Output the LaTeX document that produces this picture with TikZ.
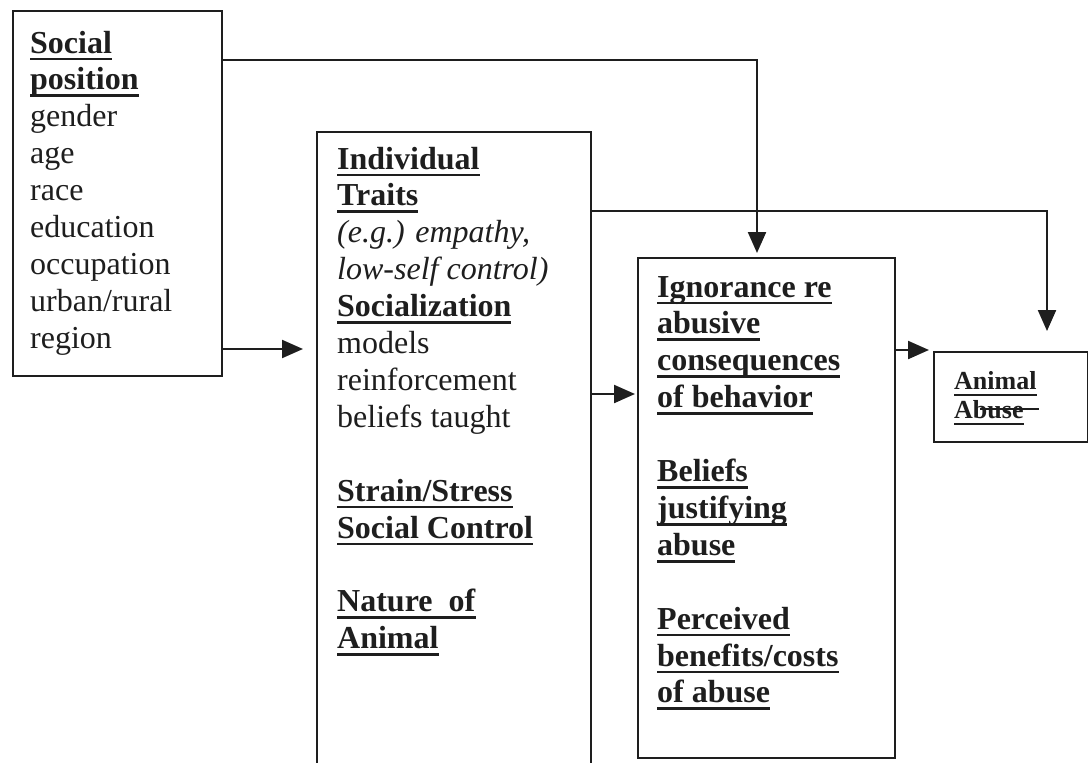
\documentclass[tikz,border=0pt]{standalone}
\usepackage{fontspec}
\setmainfont{Liberation Serif}
\usetikzlibrary{arrows.meta,calc}
\definecolor{ink}{HTML}{1E1E1E}
\newsavebox{\hdbox}
\newcommand{\hd}[1]{\sbox{\hdbox}{\textbf{#1}}\rlap{\rule[-7.3pt]{\wd\hdbox}{2.8pt}}\usebox{\hdbox}}
\tikzset{
  box/.style={draw=ink, line width=2.2pt, inner sep=0pt, anchor=north west},
  txt/.style={anchor=base west, inner sep=0pt, text=ink, font=\fontsize{32}{36.9}\selectfont},
  smalltxt/.style={anchor=base west, inner sep=0pt, text=ink, font=\fontsize{26}{30}\selectfont},
  conn/.style={draw=ink, line width=2.2pt, -{Triangle[length=21pt,width=18pt]}}
}
\begin{document}
\begin{tikzpicture}[x=1pt,y=-1pt]
\fill[white] (0,0) rectangle (1088,763);
\useasboundingbox (0,0) rectangle (1088,763);
% boxes
\node[box, minimum width=209pt, minimum height=365pt] (b1) at (12,10) {};
\node[box, minimum width=274pt, minimum height=650pt] (b2) at (316,131) {};
\node[box, minimum width=257pt, minimum height=500pt] (b3) at (637,257) {};
\node[box, minimum width=154pt, minimum height=90pt] (b4) at (933,351) {};
% box 1 text
\node[txt] (s1) at (30,53) {\hd{Social}};
\node[txt] (s2) at (30,89.9) {\hd{position}};
\node[txt] (s3) at (30,126.8) {gender};
\node[txt] (s4) at (30,163.7) {age};
\node[txt] (s5) at (30,200.6) {race};
\node[txt] (s6) at (30,237.5) {education};
\node[txt] (s7) at (30,274.4) {occupation};
\node[txt] (s8) at (30,311.3) {urban/rural};
\node[txt] (s9) at (30,348.2) {region};
% box 2 text
\node[txt] (i1) at (337,169) {\hd{Individual}};
\node[txt] (i2) at (337,205.9) {\hd{Traits}};
\node[txt] (i3) at (337,242.8) {\textit{(e.g.) empathy,}};
\node[txt] (i4) at (337,279.7) {\textit{low-self control)}};
\node[txt] (i5) at (337,316.6) {\hd{Socialization}};
\node[txt] (i6) at (337,353.5) {models};
\node[txt] (i7) at (337,390.4) {reinforcement};
\node[txt] (i8) at (337,427.3) {beliefs taught};
\node[txt] (i9) at (337,501.1) {\hd{Strain/Stress}};
\node[txt] (i10) at (337,538) {\hd{Social Control}};
\node[txt] (i11) at (337,611.8) {\hd{Nature\ \ of}};
\node[txt] (i12) at (337,648.7) {\hd{Animal}};
% box 3 text
\node[txt] (g1) at (657,297) {\hd{Ignorance re}};
\node[txt] (g2) at (657,333.9) {\hd{abusive}};
\node[txt] (g3) at (657,370.8) {\hd{consequences}};
\node[txt] (g4) at (657,407.7) {\hd{of behavior}};
\node[txt] (g5) at (657,481.5) {\hd{Beliefs}};
\node[txt] (g6) at (657,518.4) {\hd{justifying}};
\node[txt] (g7) at (657,555.3) {\hd{abuse}};
\node[txt] (g8) at (657,629.1) {\hd{Perceived}};
\node[txt] (g9) at (657,666) {\hd{benefits/costs}};
\node[txt] (g10) at (657,702.9) {\hd{of abuse}};
% box 4 text
\node[smalltxt] (a1) at (954,389) {\hd{Animal}};
\node[smalltxt] (a2) at (954,418) {\hd{Abuse}};
\draw[ink, line width=2.2pt] ($(a2.base west)+(26,-9)$) -- ($(a2.base east)+(15,-9)$);
% connectors
\draw[conn, shorten >=13pt] (b1.east |- 0,349) -- (b2.west |- 0,349);
\draw[conn, shorten >=4pt] (b1.east |- 0,60) -| (b3.north -| 757,0);
\draw[conn, shorten >=20pt] (b2.east |- 0,211) -| (b4.north -| 1047,0);
\draw[conn, shorten >=2pt] (b2.east |- 0,394) -- (b3.west |- 0,394);
\draw[conn, shorten >=4pt] (b3.east |- 0,350) -- (b4.west |- 0,350);
\end{tikzpicture}
\end{document}
